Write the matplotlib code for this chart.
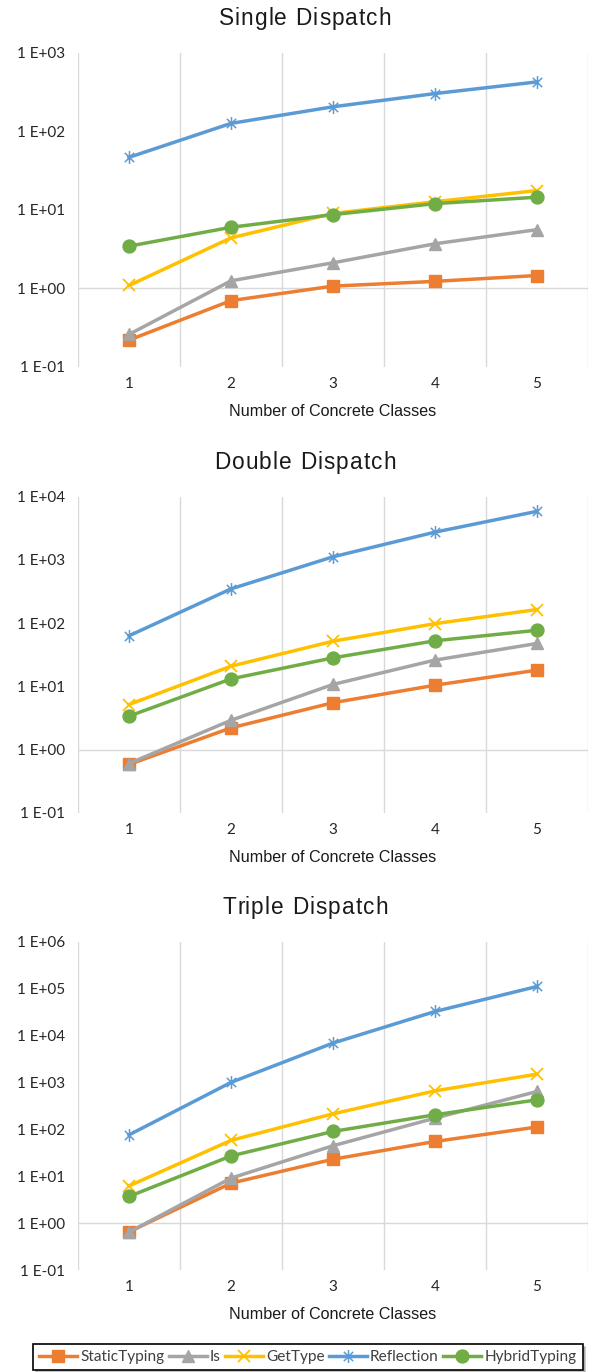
import math

import matplotlib
matplotlib.use("Agg")
import matplotlib.pyplot as plt
from matplotlib.font_manager import FontProperties
from matplotlib.path import Path
from matplotlib.ticker import FixedLocator, FuncFormatter, NullLocator

classes = [1, 2, 3, 4, 5]

series_names = ["StaticTyping", "Is", "GetType", "Reflection", "HybridTyping"]

# single dispatch timings
single_static = [0.22, 0.70, 1.07, 1.23, 1.46]
single_is = [0.26, 1.25, 2.12, 3.7, 5.6]
single_gettype = [1.09, 4.4, 9.0, 12.7, 17.6]
single_reflection = [46.6, 126, 205, 302, 425]
single_hybrid = [3.45, 6.0, 8.7, 12.0, 14.5]

# double dispatch timings
double_static = [0.58, 2.2, 5.5, 10.4, 18]
double_is = [0.60, 2.9, 10.7, 26, 47.6]
double_gettype = [5.15, 20.8, 51.7, 98, 164]
double_reflection = [63, 348, 1120, 2750, 5870]
double_hybrid = [3.37, 13.1, 28.2, 52.5, 77]

# triple dispatch timings
triple_static = [0.65, 7.1, 23, 55, 112]
triple_is = [0.64, 9.1, 44.6, 173, 640]
triple_gettype = [6.2, 58, 214, 660, 1500]
triple_reflection = [76, 1000, 6900, 32500, 111000]
triple_hybrid = [3.7, 27, 90, 204, 425]

panels = [
    ("Single Dispatch", 3, [single_static, single_is, single_gettype, single_reflection, single_hybrid]),
    ("Double Dispatch", 4, [double_static, double_is, double_gettype, double_reflection, double_hybrid]),
    ("Triple Dispatch", 6, [triple_static, triple_is, triple_gettype, triple_reflection, triple_hybrid]),
]

# excel-style asterisk marker: vertical bar plus an x
star = Path([(0, -1), (0, 1), (-0.72, -0.72), (0.72, 0.72), (-0.72, 0.72), (0.72, -0.72)],
            [Path.MOVETO, Path.LINETO, Path.MOVETO, Path.LINETO, Path.MOVETO, Path.LINETO])

styles = [
    dict(color="#ED7D31", marker="s", markersize=8.3),
    dict(color="#A5A5A5", marker="^", markersize=9.3),
    dict(color="#FFC000", marker="x", markersize=8.3, markeredgewidth=1.3),
    dict(color="#5B9BD5", marker=star, markersize=9.3, markeredgewidth=1.1),
    dict(color="#70AD47", marker="o", markersize=9.3),
]

W, H = 590, 1372
fig = plt.figure(figsize=(W / 100, H / 100), dpi=100)
renderer = fig.canvas.get_renderer()

# axes boxes in pixels: (top, bottom)
boxes = [(52.7, 367.0), (496.7, 812.7), (941.7, 1270.0)]
x0, x1 = 78, 588

grid_c = "#D9D9D9"
text_c = "#404040"
title_prop = FontProperties(family="Liberation Sans", size=16.3)


def sci_label(v, pos):
    return "1 E{:+03d}".format(int(round(math.log10(v))))


def spaced_title(text, cx, baseline, track=1.1):
    # lay the title out glyph by glyph so it gets a little extra tracking
    widths = [renderer.get_text_width_height_descent(text[:i], title_prop, ismath=False)[0]
              if i else 0.0 for i in range(len(text) + 1)]
    total = widths[-1] + track * (len(text) - 1)
    left = cx - total / 2
    for i, ch in enumerate(text):
        if ch == " ":
            continue
        fig.text((left + widths[i] + track * i) / W, 1 - baseline / H, ch,
                 fontproperties=title_prop, ha="left", va="baseline", color="#1a1a1a")


for (title, top_exp, data), (ytop, ybot) in zip(panels, boxes):
    ax = fig.add_axes([x0 / W, 1 - ybot / H, (x1 - x0) / W, (ybot - ytop) / H])
    ax.set_yscale("log")
    ax.set_ylim(0.1, 10 ** top_exp)
    ax.set_xlim(0.5, 5.5)

    for s in ax.spines.values():
        s.set_visible(False)

    # category boundaries and the 1E+00 crossing line
    for xb in [0.5, 1.5, 2.5, 3.5, 4.5, 5.5]:
        ax.axvline(xb, color=grid_c, lw=1.0, zorder=0)
    ax.axhline(1.0, color=grid_c, lw=1.0, zorder=0)

    for name, vals, st in zip(series_names, data, styles):
        ax.plot(classes, vals, lw=2.5, label=name, zorder=3, **st)

    ax.xaxis.set_major_locator(FixedLocator(classes))
    ax.yaxis.set_major_locator(FixedLocator([10.0 ** e for e in range(-1, top_exp + 1)]))
    ax.yaxis.set_minor_locator(NullLocator())
    ax.yaxis.set_major_formatter(FuncFormatter(sci_label))
    ax.tick_params(axis="both", length=0, labelcolor="#262626", labelsize=11)
    ax.tick_params(axis="x", pad=7.5)
    ax.tick_params(axis="y", pad=9.5)
    for lab in ax.get_xticklabels() + ax.get_yticklabels():
        lab.set_family("Lato")

    spaced_title(title, 305, ytop - 27.5)
    ax.annotate("Number of Concrete Classes", (0.5, 0), xycoords="axes fraction",
                xytext=(0, -32), textcoords="offset points", ha="center",
                va="center", fontsize=11.6, family="Liberation Sans", color="#1a1a1a")

handles, labels = ax.get_legend_handles_labels()
leg = fig.legend(handles, labels, loc="upper left", bbox_to_anchor=(33 / W, 1 - 1344 / H),
                 borderaxespad=0, ncol=5, frameon=True, fancybox=False, handlelength=2.45,
                 handletextpad=0.2, columnspacing=0.3, borderpad=0.4,
                 shadow={"color": "#9a9a9a", "alpha": 0.6},
                 prop={"family": "Lato", "size": 11.1})
leg.get_frame().set_edgecolor("black")
leg.get_frame().set_linewidth(1.2)
for t in leg.get_texts():
    t.set_color(text_c)

fig.savefig("out.png", dpi=100)
